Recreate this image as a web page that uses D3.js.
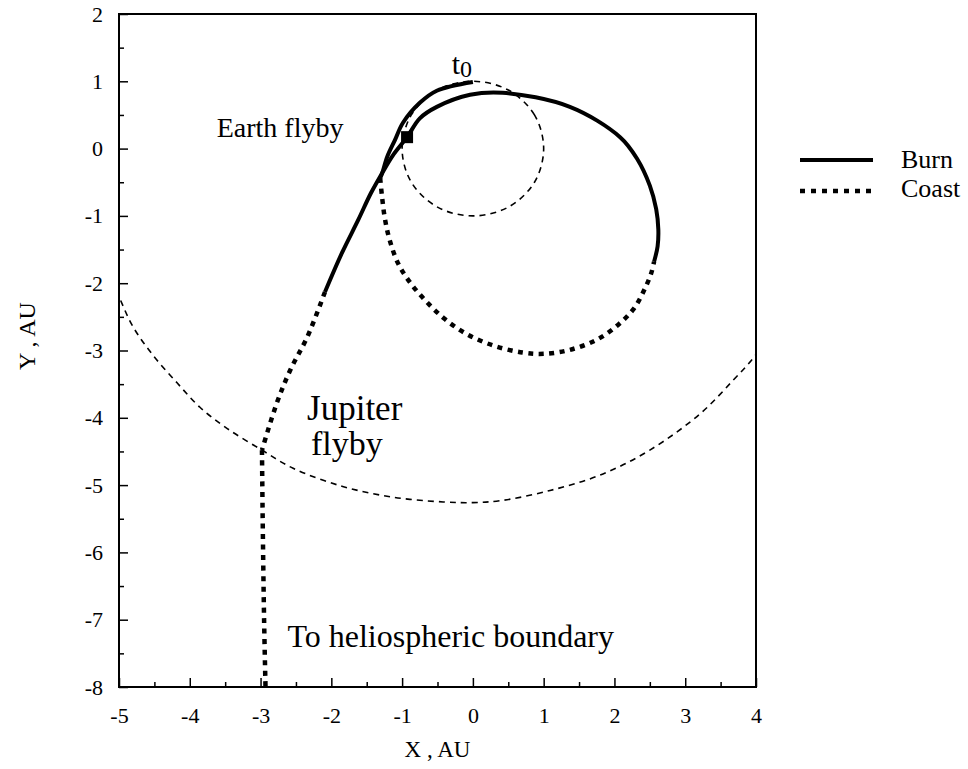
<!DOCTYPE html>
<html>
<head>
<meta charset="utf-8">
<script src="https://cdn.jsdelivr.net/npm/d3@7"></script>
<style>
  body { margin: 0; background: #fff; }
  text { font-family: "Liberation Serif", "DejaVu Serif", serif; fill: #000; }
</style>
</head>
<body>
<script>
// trajectory pieces, in AU
var burn1 = [[0, 0.99], [-0.51, 0.86], [-0.75, 0.68], [-0.99, 0.38], [-1.10, 0.13],
             [-1.21, -0.12], [-1.28, -0.36], [-1.31, -0.44]];

var coast1 = [[-1.31, -0.44], [-1.28, -0.75], [-1.24, -1.06], [-1.17, -1.38], [-1.05, -1.72],
              [-0.88, -2.00], [-0.66, -2.27], [-0.40, -2.53], [-0.08, -2.76], [0.30, -2.93],
              [0.70, -3.03], [1.00, -3.05], [1.37, -2.99], [1.75, -2.84], [2.05, -2.62],
              [2.28, -2.37], [2.43, -2.08], [2.52, -1.85], [2.56, -1.68]];

var burn2 = [[2.56, -1.68], [2.61, -1.45], [2.62, -1.20], [2.59, -0.90], [2.50, -0.55],
             [2.32, -0.15], [2.08, 0.17], [1.37, 0.62], [0.42, 0.83], [-0.04, 0.80],
             [-0.51, 0.62], [-0.75, 0.45], [-0.93, 0.17], [-1.13, -0.10], [-1.28, -0.36],
             [-1.44, -0.66], [-1.62, -1.06], [-1.85, -1.55], [-2.09, -2.13]];

var coast2 = [[-2.09, -2.13], [-2.34, -2.80], [-2.58, -3.29], [-2.77, -3.78], [-2.98, -4.48]];

var coast3 = [[-2.98, -4.48], [-2.97, -5.5], [-2.95, -7.0], [-2.93, -8.0]];

var earthOrbit = [[1, 0], [0.87, 0.5], [0.5, 0.87], [0, 1], [-0.5, 0.87], [-0.87, 0.5],
                  [-1, 0], [-0.87, -0.5], [-0.5, -0.87], [0, -1], [0.5, -0.87], [0.87, -0.5]];

var jupiterOrbit = [[-5.4, -1.2], [-5.0, -2.20], [-4.80, -2.65], [-4.52, -3.07], [-4.18, -3.48],
                    [-3.86, -3.84], [-3.47, -4.16], [-2.98, -4.48], [-2.54, -4.75], [-1.84, -5.02],
                    [-1.13, -5.18], [-0.42, -5.25], [0.0, -5.26], [0.40, -5.23], [1.09, -5.08],
                    [1.80, -4.85], [2.50, -4.48], [3.21, -3.94], [3.67, -3.45], [4.0, -3.06],
                    [4.4, -2.4]];

var earthFlyby = [-0.93, 0.17];

var xTicks = [-5, -4, -3, -2, -1, 0, 1, 2, 3, 4];
var yTicks = [2, 1, 0, -1, -2, -3, -4, -5, -6, -7, -8];

var legendItems = ["Burn", "Coast"];

var margin = {top: 14, right: 212, bottom: 82, left: 119},
    width = 968 - margin.left - margin.right,
    height = 769 - margin.top - margin.bottom;

var x = d3.scaleLinear().domain([-5, 4]).range([0, width]);
var y = d3.scaleLinear().domain([-8, 2]).range([height, 0]);

var svg = d3.select("body").append("svg")
    .attr("width", 968)
    .attr("height", 769);

var g = svg.append("g")
    .attr("transform", "translate(" + margin.left + "," + margin.top + ")");

g.append("clipPath").attr("id", "clip")
  .append("rect").attr("width", width).attr("height", height);

var line = d3.line()
    .x(function(d) { return x(d[0]); })
    .y(function(d) { return y(d[1]); })
    .curve(d3.curveCatmullRom.alpha(0.5));

var closedLine = d3.line()
    .x(function(d) { return x(d[0]); })
    .y(function(d) { return y(d[1]); })
    .curve(d3.curveCatmullRomClosed.alpha(0.5));

var plot = g.append("g").attr("clip-path", "url(#clip)");

// planet orbits
plot.append("path")
    .datum(earthOrbit)
    .attr("d", closedLine)
    .attr("fill", "none")
    .attr("stroke", "#000")
    .attr("stroke-width", 1.6)
    .attr("stroke-dasharray", "6,5");

plot.append("path")
    .datum(jupiterOrbit)
    .attr("d", line)
    .attr("fill", "none")
    .attr("stroke", "#000")
    .attr("stroke-width", 1.6)
    .attr("stroke-dasharray", "6,5");

// trajectory
function drawBurn(data) {
  plot.append("path")
      .datum(data)
      .attr("d", line)
      .attr("fill", "none")
      .attr("stroke", "#000")
      .attr("stroke-width", 4);
}

function drawCoast(data) {
  plot.append("path")
      .datum(data)
      .attr("d", line)
      .attr("fill", "none")
      .attr("stroke", "#000")
      .attr("stroke-width", 4.5)
      .attr("stroke-dasharray", "5,5.5");
}

drawBurn(burn1);
drawCoast(coast1);
drawBurn(burn2);
drawCoast(coast2);
drawCoast(coast3);

plot.append("rect")
    .attr("x", x(earthFlyby[0]) - 6)
    .attr("y", y(earthFlyby[1]) - 6)
    .attr("width", 12)
    .attr("height", 12)
    .attr("fill", "#000");

// annotations
g.append("text")
    .attr("x", x(-3.62))
    .attr("y", y(0.17))
    .style("font-size", "28px")
    .text("Earth flyby");

var t0 = g.append("text")
    .attr("x", x(-0.30))
    .attr("y", y(1.11))
    .style("font-size", "30px");
t0.append("tspan").text("t");
t0.append("tspan").attr("dy", 3).style("font-size", "24px").text("0");

g.append("text")
    .attr("x", x(-1.67))
    .attr("y", y(-4.04))
    .attr("text-anchor", "middle")
    .style("font-size", "35px")
    .text("Jupiter");

g.append("text")
    .attr("x", x(-1.78))
    .attr("y", y(-4.55))
    .attr("text-anchor", "middle")
    .style("font-size", "34px")
    .text("flyby");

g.append("text")
    .attr("x", x(-2.62))
    .attr("y", y(-7.41))
    .style("font-size", "32px")
    .text("To heliospheric boundary");

// axes, ticks inside
var fmt = function(d) { return String(d); };

var xAxis = d3.axisBottom(x).tickValues(xTicks).tickSize(-9).tickPadding(20).tickFormat(fmt);
var yAxis = d3.axisLeft(y).tickValues(yTicks).tickSize(-9).tickPadding(16).tickFormat(fmt);

var xMinor = d3.axisBottom(x).tickValues(d3.range(-4.5, 4, 1)).tickSize(-5).tickFormat("");
var yMinor = d3.axisLeft(y).tickValues(d3.range(-7.5, 2, 1)).tickSize(-5).tickFormat("");

function styleAxis(sel) {
  sel.select(".domain").remove();
  sel.selectAll("line").attr("stroke", "#000").attr("stroke-width", 1.5);
  sel.selectAll("text")
      .style("font-family", "'Liberation Serif', serif")
      .style("font-size", "22px")
      .attr("fill", "#000");
}

g.append("g").attr("transform", "translate(0," + height + ")").call(xAxis).call(styleAxis);
g.append("g").attr("transform", "translate(0," + height + ")").call(xMinor).call(styleAxis);
g.append("g").call(yAxis).call(styleAxis);
g.append("g").call(yMinor).call(styleAxis);

g.append("rect")
    .attr("width", width)
    .attr("height", height)
    .attr("fill", "none")
    .attr("stroke", "#000")
    .attr("stroke-width", 2);

// axis titles
svg.append("text")
    .attr("x", margin.left + x(-0.5))
    .attr("y", 757)
    .attr("text-anchor", "middle")
    .style("font-size", "23px")
    .text("X , AU");

svg.append("text")
    .attr("transform", "translate(35,336) rotate(-90)")
    .attr("text-anchor", "middle")
    .style("font-size", "24px")
    .text("Y , AU");

// legend
var legend = svg.append("g").attr("transform", "translate(800,160)");

legend.selectAll("line")
    .data(legendItems)
    .enter().append("line")
    .attr("x1", 0)
    .attr("x2", 73)
    .attr("y1", function(d, i) { return i * 31; })
    .attr("y2", function(d, i) { return i * 31; })
    .attr("stroke", "#000")
    .attr("stroke-width", function(d, i) { return i ? 4.5 : 4; })
    .attr("stroke-dasharray", function(d, i) { return i ? "5,6" : null; });

legend.selectAll("text")
    .data(legendItems)
    .enter().append("text")
    .attr("x", 101)
    .attr("y", function(d, i) { return i * 29 + 8; })
    .style("font-size", "26px")
    .text(function(d) { return d; });
</script>
</body>
</html>
